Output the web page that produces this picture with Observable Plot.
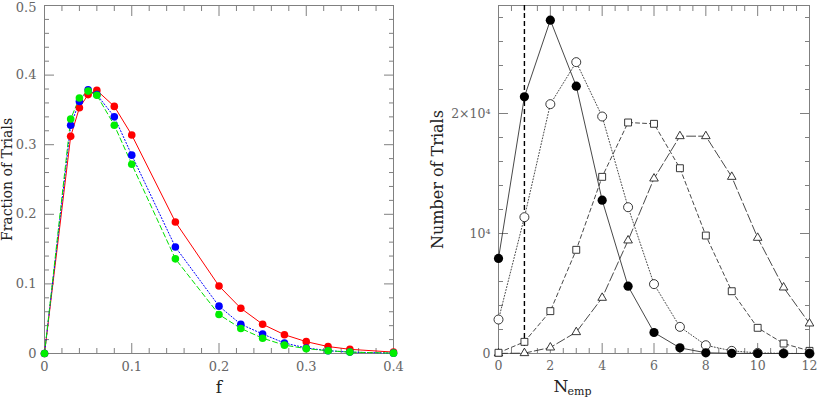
<!DOCTYPE html>
<html>
<head>
<meta charset="utf-8">
<script src="https://cdn.jsdelivr.net/npm/d3@7"></script>
<script src="https://cdn.jsdelivr.net/npm/@observablehq/plot@0.6"></script>
<style>
  html, body { margin: 0; padding: 0; background: #fff; }
  #wrap { position: relative; width: 817px; height: 398px; overflow: hidden; }
  #left { position: absolute; left: 0; top: 0; }
  #right { position: absolute; left: 410px; top: 0; }
</style>
</head>
<body>
<div id="wrap"><div id="left"></div><div id="right"></div></div>
<script>
// ---------- Left panel data ----------
const fValues   = [0, 0.03, 0.04, 0.05, 0.06, 0.08, 0.1, 0.15, 0.2, 0.225, 0.25, 0.275, 0.3, 0.325, 0.35, 0.4];
const redFrac   = [0, 0.312, 0.353, 0.372, 0.378, 0.355, 0.314, 0.189, 0.097, 0.065, 0.042, 0.027, 0.017, 0.010, 0.006, 0.002];
const blueFrac  = [0, 0.328, 0.362, 0.379, 0.372, 0.340, 0.285, 0.153, 0.068, 0.042, 0.028, 0.015, 0.008, 0.004, 0.002, 0.0005];
const greenFrac = [0, 0.337, 0.367, 0.377, 0.371, 0.328, 0.272, 0.136, 0.056, 0.036, 0.022, 0.012, 0.007, 0.004, 0.002, 0.0005];

const leftXMajor = [0, 0.1, 0.2, 0.3, 0.4];
const leftXLabels = ["0", "0.1", "0.2", "0.3", "0.4"];
const leftYMajor = [0, 0.1, 0.2, 0.3, 0.4, 0.5];
const leftYLabels = ["0", "0.1", "0.2", "0.3", "0.4", "0.5"];
const leftXMinor = [0.02, 0.04, 0.06, 0.08, 0.12, 0.14, 0.16, 0.18, 0.22, 0.24, 0.26, 0.28, 0.32, 0.34, 0.36, 0.38];
const leftYMinor = [0.02, 0.04, 0.06, 0.08, 0.12, 0.14, 0.16, 0.18, 0.22, 0.24, 0.26, 0.28, 0.32, 0.34, 0.36, 0.38, 0.42, 0.44, 0.46, 0.48];

// ---------- Right panel data ----------
const nEmp        = [0, 1, 2, 3, 4, 5, 6, 7, 8, 9, 10, 11, 12];
const filledCirc  = [7920, 21390, 27780, 22280, 12780, 5610, 1750, 470, 60, 15, 0, 0, 0];
const openCirc    = [2830, 11360, 20780, 24280, 19750, 12190, 5780, 2220, 690, 220, 50, 10, 0];
const squares     = [60, 970, 3530, 8640, 14720, 19250, 19140, 15440, 9830, 5190, 2140, 830, 220];
const triangles   = [5, 30, 500, 1780, 4640, 9420, 14580, 18110, 18110, 14720, 9640, 5500, 2500];
const markerLineX = [1];

const rightXMajor = [0, 2, 4, 6, 8, 10, 12];
const rightXLabels = ["0", "2", "4", "6", "8", "10", "12"];
const rightXMinor = [0.5, 1, 1.5, 2.5, 3, 3.5, 4.5, 5, 5.5, 6.5, 7, 7.5, 8.5, 9, 9.5, 10.5, 11, 11.5];
const rightYMajor = [0, 10000, 20000];
const rightYLabels = ["0", "10\u2074", "2\u00d710\u2074"];
const rightYMinor = [2000, 4000, 6000, 8000, 12000, 14000, 16000, 18000, 22000, 24000, 26000, 28000];

const FRAME = "#808080";
const TICKTXT = "#666";
const LABEL = "#222";
const SERIF = "'DejaVu Serif', 'Liberation Serif', serif";

function frameTicks(xMajor, xMinor, yMajor, yMinor) {
  const marks = [];
  for (const anchor of ["bottom", "top"]) {
    marks.push(Plot.axisX({anchor, ticks: xMajor, tickSize: -10, tickFormat: () => "", stroke: FRAME, label: null}));
    marks.push(Plot.axisX({anchor, ticks: xMinor, tickSize: -5, tickFormat: () => "", stroke: FRAME, label: null}));
  }
  for (const anchor of ["left", "right"]) {
    marks.push(Plot.axisY({anchor, ticks: yMajor, tickSize: -10, tickFormat: () => "", stroke: FRAME, label: null}));
    marks.push(Plot.axisY({anchor, ticks: yMinor, tickSize: -5, tickFormat: () => "", stroke: FRAME, label: null}));
  }
  return marks;
}

// ---------- Left plot ----------
const mk = (ys) => fValues.map((f, i) => ({f, v: ys[i]}));
const red = mk(redFrac), blue = mk(blueFrac), green = mk(greenFrac);
const leftYFmt = d => leftYLabels[leftYMajor.indexOf(d)];

const left = Plot.plot({
  width: 410, height: 398,
  marginLeft: 44, marginRight: 17, marginTop: 5, marginBottom: 45,
  style: {fontFamily: SERIF, fontSize: "13px", color: TICKTXT, background: "transparent"},
  x: {domain: [0, 0.4]},
  y: {domain: [0, 0.5]},
  marks: [
    Plot.frame({stroke: FRAME}),
    ...frameTicks(leftXMajor, leftXMinor, leftYMajor, leftYMinor),
    Plot.axisX({anchor: "bottom", ticks: leftXMajor, tickSize: 0, tickPadding: 8,
      tickFormat: d => leftXLabels[leftXMajor.indexOf(d)], label: null, fill: TICKTXT}),
    Plot.axisY({anchor: "left", ticks: leftYMajor.slice(0, -1), tickSize: 0, tickPadding: 8,
      tickFormat: leftYFmt, label: null, fill: TICKTXT}),
    Plot.axisY({anchor: "left", ticks: leftYMajor.slice(-1), tickSize: 0, tickPadding: 8, dy: 2,
      tickFormat: leftYFmt, label: null, fill: TICKTXT}),
    Plot.line(red, {x: "f", y: "v", stroke: "#ff0000", strokeWidth: 1}),
    Plot.line(blue, {x: "f", y: "v", stroke: "#0000ff", strokeWidth: 1, strokeDasharray: "1.2,2"}),
    Plot.line(green, {x: "f", y: "v", stroke: "#00e000", strokeWidth: 1, strokeDasharray: "5,3"}),
    Plot.dot(red, {x: "f", y: "v", fill: "#ff0000", r: 3.8}),
    Plot.dot(blue, {x: "f", y: "v", fill: "#0000ff", r: 3.8}),
    Plot.dot(green, {x: "f", y: "v", fill: "#00ee00", r: 3.8}),
    Plot.text(["Fraction of Trials"], {text: d => d, frameAnchor: "left", textAnchor: "middle", lineAnchor: "middle",
      rotate: -90, dx: -37, fontSize: 14, fill: LABEL}),
    Plot.text(["f"], {text: d => d, frameAnchor: "bottom", textAnchor: "middle", lineAnchor: "middle",
      dy: 34, fontSize: 17, fill: LABEL})
  ]
});
document.getElementById("left").appendChild(left);

// ---------- Right plot ----------
const mr = (ys) => nEmp.map((n, i) => ({n, v: ys[i]}));
const fc = mr(filledCirc), oc = mr(openCirc), sq = mr(squares), tr = mr(triangles);
const LC = "#333";

const right = Plot.plot({
  width: 407, height: 398,
  marginLeft: 88, marginRight: 8, marginTop: 5, marginBottom: 45,
  style: {fontFamily: SERIF, fontSize: "12.5px", color: TICKTXT, background: "transparent"},
  x: {domain: [0, 12]},
  y: {domain: [0, 29000]},
  marks: [
    Plot.frame({stroke: FRAME}),
    ...frameTicks(rightXMajor, rightXMinor, rightYMajor, rightYMinor),
    Plot.axisX({anchor: "bottom", ticks: rightXMajor, tickSize: 0, tickPadding: 8,
      tickFormat: d => rightXLabels[rightXMajor.indexOf(d)], label: null, fill: TICKTXT}),
    Plot.axisY({anchor: "left", ticks: rightYMajor, tickSize: 0, tickPadding: 8,
      tickFormat: d => rightYLabels[rightYMajor.indexOf(d)], label: null, fill: TICKTXT}),
    Plot.ruleX(markerLineX, {stroke: "#000", strokeWidth: 1.4, strokeDasharray: "5,3"}),
    Plot.line(tr, {x: "n", y: "v", stroke: LC, strokeWidth: 0.9, strokeDasharray: "9,3"}),
    Plot.line(sq, {x: "n", y: "v", stroke: LC, strokeWidth: 0.9, strokeDasharray: "4,3"}),
    Plot.line(oc, {x: "n", y: "v", stroke: LC, strokeWidth: 0.9, strokeDasharray: "1,2"}),
    Plot.line(fc, {x: "n", y: "v", stroke: LC, strokeWidth: 0.9}),
    Plot.dot(tr, {x: "n", y: "v", symbol: "triangle", r: 3.2, stroke: "#222", fill: "white", strokeWidth: 0.9}),
    Plot.dot(sq, {x: "n", y: "v", symbol: "square", r: 3.9, stroke: "#222", fill: "white", strokeWidth: 0.9}),
    Plot.dot(oc, {x: "n", y: "v", symbol: "circle", r: 4.5, stroke: "#222", fill: "white", strokeWidth: 0.9}),
    Plot.dot(fc, {x: "n", y: "v", symbol: "circle", r: 4.6, fill: "#000"}),
    Plot.text(["Number of Trials"], {text: d => d, frameAnchor: "left", textAnchor: "middle", lineAnchor: "middle",
      rotate: -90, dx: -61, fontSize: 16, fill: LABEL}),
    Plot.text(["N"], {text: d => d, frameAnchor: "bottom-left", textAnchor: "start", lineAnchor: "middle",
      dx: 55, dy: 33, fontSize: 17, fill: LABEL}),
    Plot.text(["emp"], {text: d => d, frameAnchor: "bottom-left", textAnchor: "start", lineAnchor: "middle",
      dx: 69, dy: 38, fontSize: 11, fill: LABEL})
  ]
});
document.getElementById("right").appendChild(right);
</script>
</body>
</html>
